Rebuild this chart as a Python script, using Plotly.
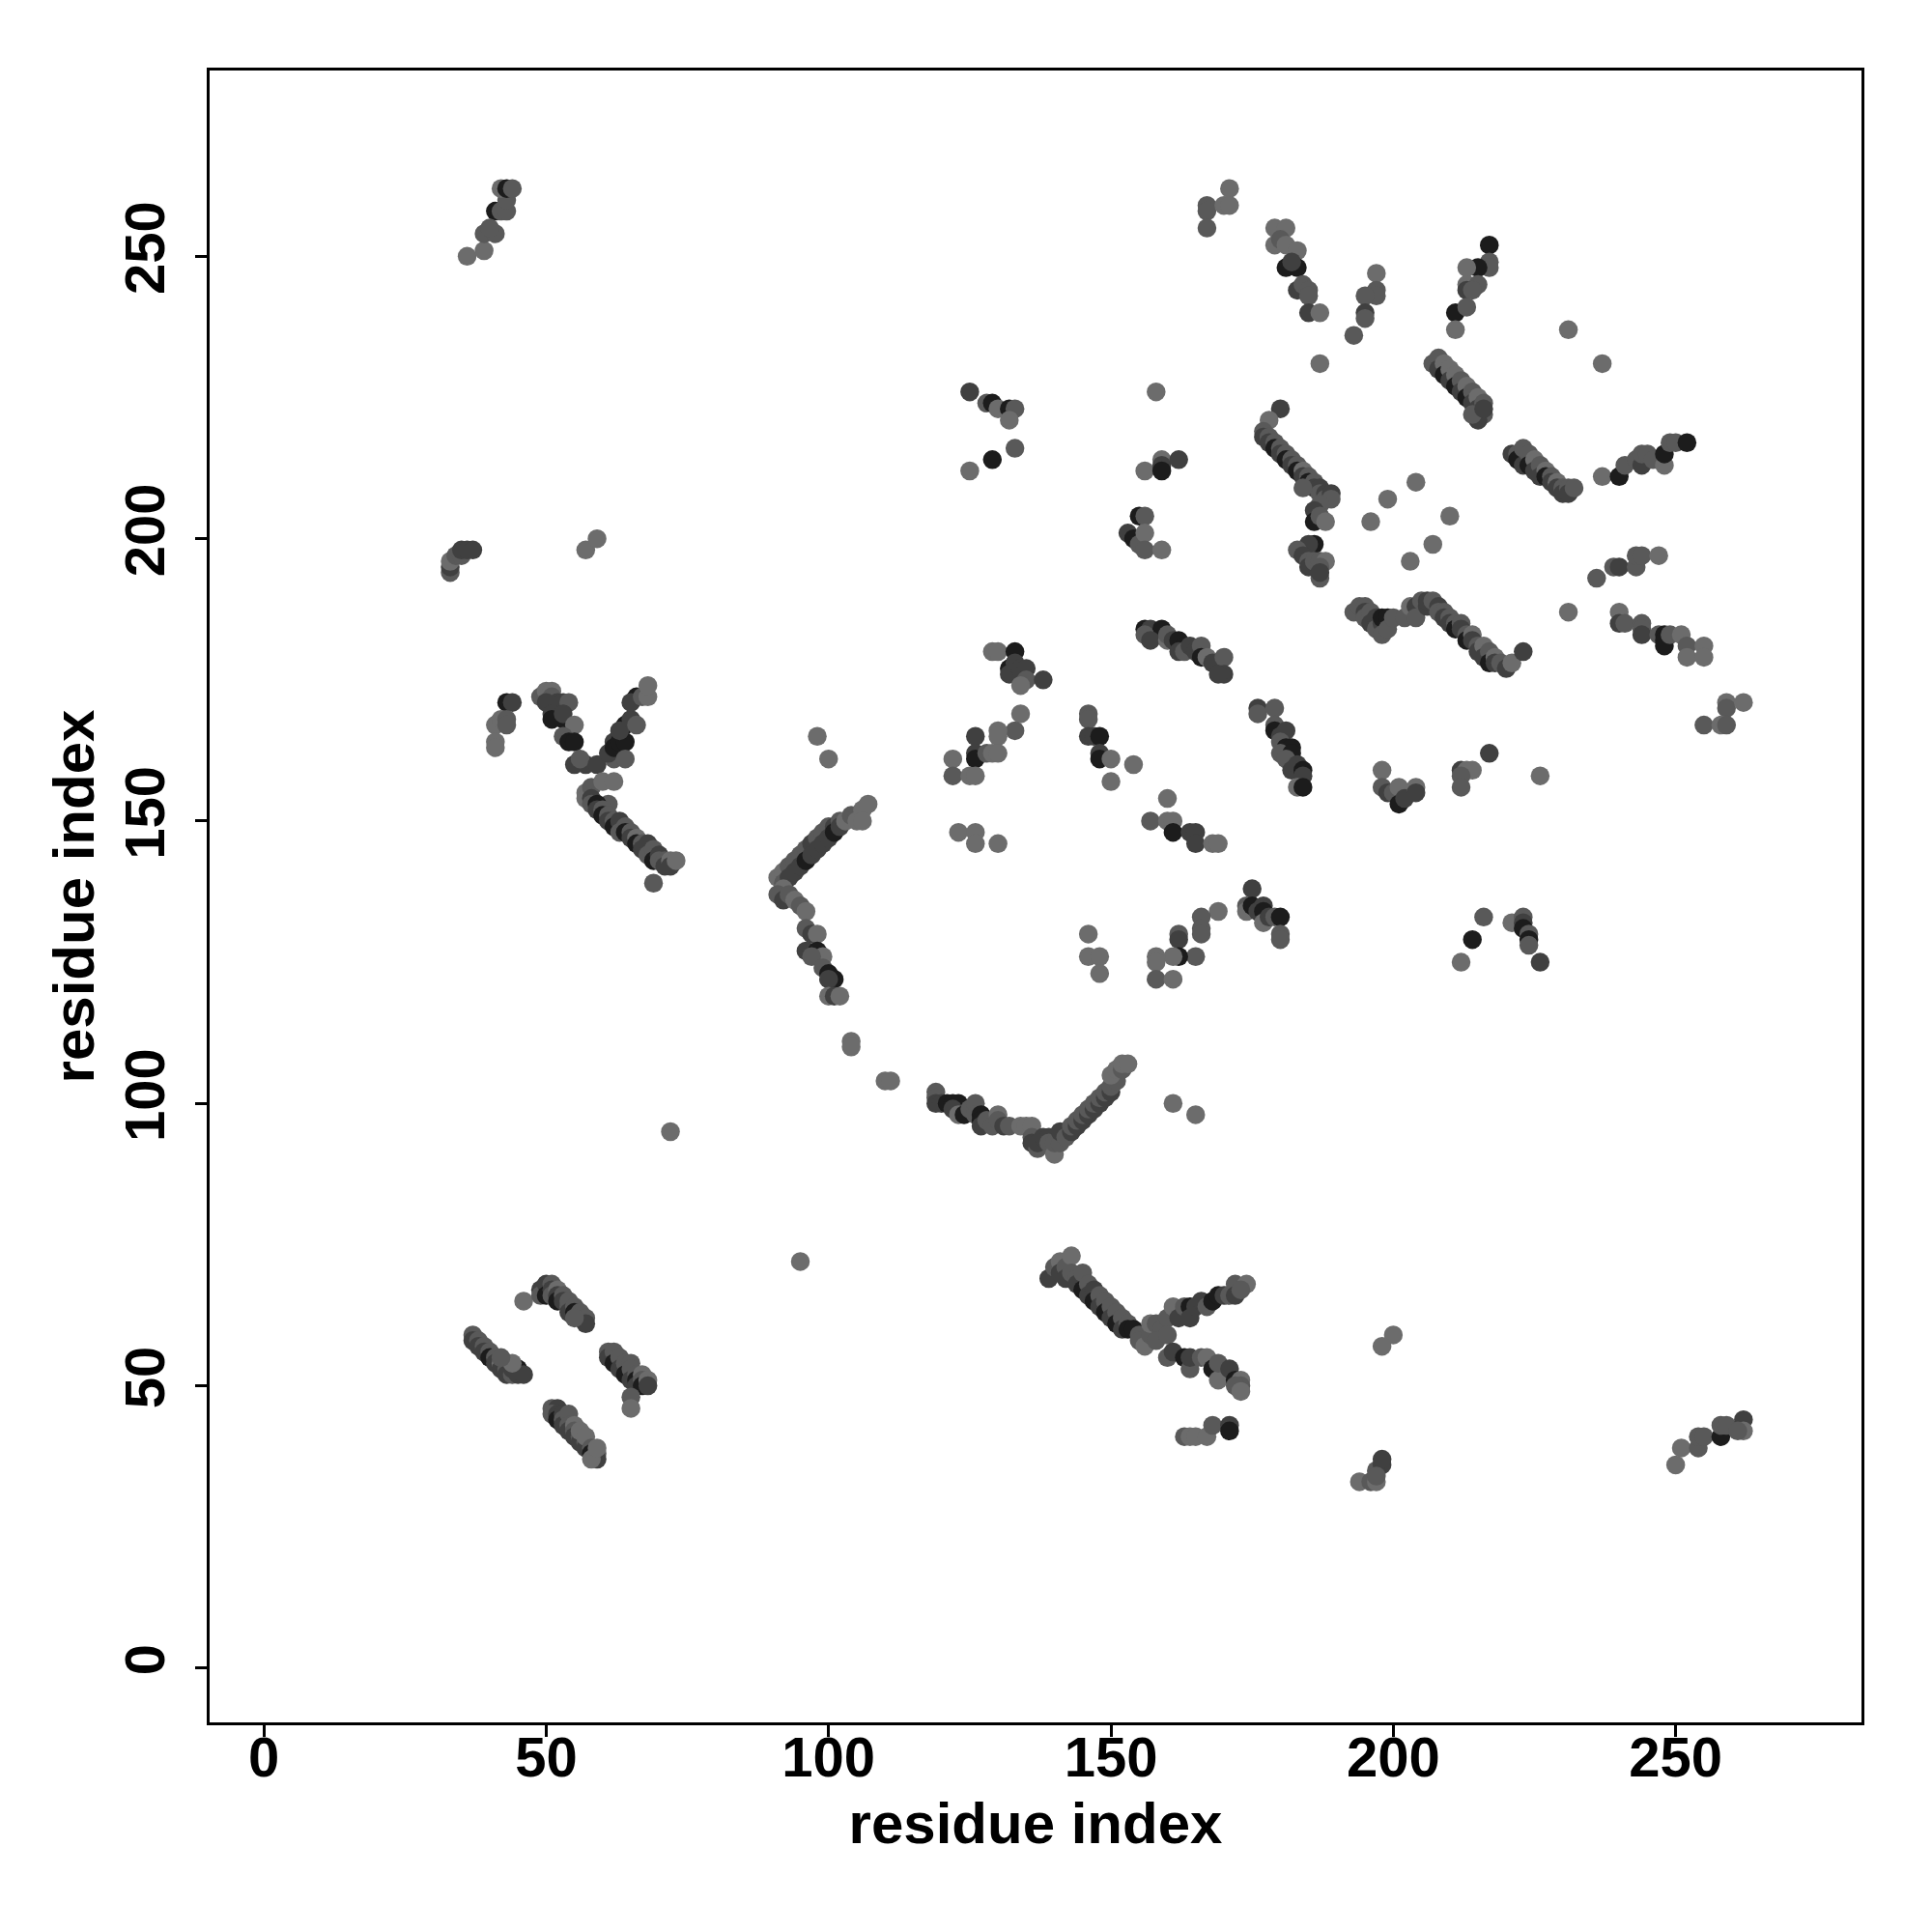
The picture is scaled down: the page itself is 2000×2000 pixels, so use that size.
import plotly.graph_objects as go

# contacts as (residue_i, residue_j, score_level) ; level 1 = weakest (light grey) .. 4 = strongest (near black)
contacts_top_left = [
    (36,250,1),(39,251,1),(39,254,2),(41,254,2),(41,258,4),(42,258,2),(43,258,2),(43,260,2),(42,262,1),(43,262,4),(44,262,2),(40,255,2),
    (33,194,2),(33,195,3),(33,196,1),(34,197,2),(35,197,2),(35,198,3),(36,198,3),(37,198,3),
    (57,198,1),(59,200,1),
]
contacts_y_shape = [
    (43,171,4),(44,171,3),(41,167,1),(42,168,1),(43,168,2),(43,167,2),(41,164,1),(41,163,1),
    (49,172,2),(50,173,1),(51,173,1),(51,172,2),(50,171,3),(52,171,3),(53,171,3),(54,171,2),(51,169,3),(51,168,4),(53,168,4),(53,169,3),
    (55,167,1),(53,165,2),(54,164,4),(55,164,4),(55,160,3),(57,160,3),(56,161,2),
    (57,155,1),(57,154,1),(58,156,2),(59,160,3),(60,157,1),(62,161,2),(61,162,3),(62,164,3),(62,163,4),(63,164,4),(64,164,4),(64,167,4),
    (63,166,3),(65,168,3),(66,167,2),(66,172,4),(65,171,3),(67,172,2),(68,172,1),(68,174,1),(62,157,1),(64,161,2),(61,153,2),
    (58,154,3),(58,153,2),(59,153,4),(59,152,3),(60,152,2),(60,151,4),(61,151,2),(61,150,3),(62,150,2),(62,149,4),(63,150,3),(63,148,2),
    (64,149,2),(64,148,4),(65,148,2),(65,147,3),(66,147,1),(66,146,4),(67,146,2),(67,145,3),(68,146,3),(68,144,2),(69,145,2),(69,143,4),
    (70,144,3),(70,143,2),(71,143,2),(71,142,3),(72,143,1),(72,142,3),(73,143,1),(69,139,2),
]
contacts_arc = [
    (91,140,1),(92,141,1),(92,139,2),(93,142,2),(93,140,3),(94,143,2),(94,141,3),(95,144,2),(95,142,3),(96,145,2),(96,143,4),(97,146,3),
    (97,144,3),(98,147,2),(98,145,3),(99,148,2),(99,146,3),(100,149,2),(100,147,3),(101,149,3),(101,148,4),(102,150,2),(102,149,3),
    (103,150,1),(104,151,2),(105,151,2),(105,150,1),(106,152,1),(107,153,1),(106,150,1),
    (92,138,1),(91,137,2),(92,136,3),(93,137,2),(94,136,1),(95,135,2),(96,134,1),(96,131,2),(97,130,3),(98,130,1),(96,127,3),(98,127,4),
    (99,126,1),(97,126,2),(99,124,2),(100,123,4),(101,122,4),(100,122,3),(100,119,1),(101,119,3),(102,119,1),
    (104,111,1),(104,110,1),(110,104,1),(111,104,1),(98,165,1),(100,161,1),(72,95,1),(95,72,1),
]
contacts_mid_upper = [
    (125,226,3),(128,224,2),(129,224,4),(130,223,1),(132,223,4),(133,223,2),(132,221,1),(133,216,2),(129,214,4),(125,212,1),
    (129,180,1),(130,180,1),(133,180,4),(132,177,4),(132,176,3),(133,178,3),(134,177,3),(135,177,3),(135,175,2),(134,174,1),(138,175,3),
    (134,169,1),(133,166,2),(130,166,1),(130,165,1),(126,165,3),(126,162,3),(126,161,4),(128,162,2),(129,162,1),(130,162,1),
    (122,161,1),(122,158,2),(125,158,1),(126,158,1),(123,148,1),(126,148,1),(126,146,1),(130,146,1),
    (146,169,2),(146,168,2),(146,165,3),(147,165,3),(148,165,4),(148,162,3),(148,161,4),(150,161,1),(150,157,1),(154,160,1),
    (146,130,1),(146,126,1),(148,126,1),(148,123,1),
]
contacts_v_shape = [
    (119,102,2),(119,101,2),(119,100,3),(120,100,3),(121,100,4),(122,100,4),(123,100,4),(122,99,3),(123,98,1),(124,98,4),(125,99,2),
    (126,100,2),(126,98,2),(127,98,4),(127,97,4),(127,96,3),(128,97,2),(129,96,2),(130,98,1),(130,97,2),(131,96,3),(132,96,2),
    (134,96,1),(135,96,1),(136,96,1),(136,94,2),(136,93,3),(137,92,2),(137,93,3),(138,94,3),(139,94,3),(139,93,2),(140,91,1),(140,93,2),
    (141,93,2),(141,95,3),(142,94,2),(143,95,3),(143,96,2),(144,96,3),(144,97,2),(145,97,3),(145,98,2),(146,98,3),(146,99,2),(147,99,3),
    (147,100,2),(148,100,3),(148,101,2),(149,101,3),(149,102,2),(150,102,3),(150,103,2),(151,104,2),(150,105,1),(151,106,1),(152,106,2),
    (152,107,1),(153,107,1),(161,100,1),(165,98,1),
]
contacts_low_left = [
    (37,59,2),(37,58,3),(38,58,2),(38,57,3),(39,57,2),(39,56,3),(40,56,2),(40,55,4),(41,55,2),(41,54,3),(42,54,1),(42,53,3),(43,53,2),
    (43,52,3),(44,52,2),(44,53,3),(45,53,4),(45,52,3),(46,52,3),(44,54,1),(42,55,2),
    (46,65,1),(49,67,3),(49,66,2),(50,68,3),(50,66,4),(51,68,2),(51,67,3),(51,66,2),(52,67,1),(52,66,3),(52,65,4),(53,66,2),(53,65,3),
    (54,64,2),(54,65,2),(54,63,3),(55,64,2),(55,63,4),(56,62,3),(56,63,2),(57,62,2),(57,61,3),(55,62,2),
    (61,56,2),(61,55,3),(62,56,2),(62,54,4),(63,55,2),(63,53,3),(64,54,2),(64,52,4),(65,54,2),(65,53,2),(65,51,3),(66,52,2),(66,51,4),
    (66,50,3),(67,52,1),(67,51,2),(67,50,4),(68,51,1),(68,50,3),(65,48,2),(65,46,1),
    (51,46,2),(52,46,3),(51,45,2),(52,45,3),(52,44,4),(53,45,3),(53,44,2),(53,43,3),(54,45,2),(54,43,2),(54,42,3),(55,43,1),(55,42,2),
    (55,41,3),(56,41,2),(56,40,3),(56,42,1),(57,40,2),(57,39,3),(57,41,1),(58,39,2),(58,38,4),(59,38,2),(59,37,3),(58,37,1),(59,39,1),
]
contacts_low_mid = [
    (139,69,3),(140,71,2),(141,72,1),(141,70,3),(142,71,2),(142,69,3),(143,73,1),(143,70,2),(144,69,2),(144,68,3),(145,70,2),(145,67,4),
    (146,68,2),(146,66,3),(147,67,3),(147,65,4),(148,66,2),(148,64,3),(149,65,2),(149,63,4),(150,64,2),(150,62,3),(151,63,2),(151,61,4),
    (152,62,2),(152,60,3),(153,61,2),(153,60,4),(154,60,4),(155,59,2),(155,58,2),(156,57,1),(157,59,2),(157,61,1),(158,61,2),(159,60,2),(158,58,2),
    (160,62,2),(161,64,1),(160,59,2),(160,55,2),(162,62,3),(163,64,2),(164,64,4),(164,62,3),(165,64,3),(166,65,3),(167,64,2),(168,65,4),
    (169,66,4),(170,66,3),(171,66,2),(172,68,2),(172,66,3),(174,68,1),(173,67,2),
    (161,56,3),(163,55,4),(164,53,2),(164,55,3),(166,55,2),(167,55,1),(168,53,4),(169,51,1),(169,54,2),(171,53,3),(172,51,4),(173,51,1),
    (173,50,2),(172,50,2),(173,49,1),
    (163,41,2),(164,41,1),(165,41,1),(167,41,1),(168,43,2),(171,43,3),(171,42,4),
]
contacts_low_right = [
    (200,59,1),(198,57,1),
    (194,33,1),(196,33,2),(197,33,1),(197,35,2),(198,36,3),(198,37,3),(197,34,2),
    (250,36,1),(251,39,1),(254,39,2),(254,41,2),(255,41,2),(258,41,4),(258,43,2),(259,43,2),(262,44,3),(262,42,1),(261,42,2),
]
contacts_center = [
    (156,184,4),(157,184,3),(159,184,4),(156,183,2),(157,182,3),(160,182,1),(160,183,2),(161,182,3),(162,182,4),(163,181,4),(162,180,3),
    (163,180,2),(164,181,3),(165,180,3),(166,181,2),(166,179,4),(167,179,1),(168,178,3),(170,179,2),(170,176,3),(169,176,3),
    (176,170,3),(176,169,2),(179,170,2),(179,167,2),(179,166,4),(180,165,3),(181,166,3),(180,164,2),(181,163,4),(182,163,4),(180,162,2),
    (182,162,4),(181,161,2),(182,159,3),(183,160,3),(184,159,4),(184,158,3),(183,156,1),(184,156,4),
    (160,154,1),(157,150,2),(160,150,1),(161,150,1),(161,148,4),(164,148,3),(165,148,3),(165,146,3),(168,146,1),(169,146,1),
    (198,159,1),(198,156,2),(199,155,3),(200,155,2),(201,156,1),(201,153,4),(202,154,3),(204,156,1),(204,155,3),
    (175,138,3),(174,135,2),(174,134,1),(175,135,4),(176,134,3),(177,135,3),(177,134,4),(177,132,1),(178,133,3),(179,133,2),(180,133,4),
    (180,130,2),(180,129,2),
    (169,134,1),(166,133,2),(166,131,2),(166,130,2),(162,130,2),(162,129,3),(165,126,2),(162,126,4),(161,126,1),(158,126,1),(158,125,1),
    (158,122,2),(161,122,1),
]
contacts_upper_right = [
    (171,262,1),(167,259,2),(167,258,2),(170,259,1),(171,259,1),(167,255,2),
    (179,255,1),(181,255,1),(179,252,1),(180,253,2),(181,252,1),(183,251,1),(181,248,4),(183,248,4),(182,249,3),(183,244,3),(184,245,2),
    (185,244,2),(185,243,2),(185,240,3),(187,240,1),
    (197,247,1),(197,244,2),(197,243,2),(195,243,2),(195,240,3),(195,239,2),(193,236,2),(187,231,1),(158,226,1),
    (180,223,3),(178,221,1),(177,219,2),(177,218,3),(178,218,2),(178,217,3),(179,217,2),(179,216,4),(180,216,2),(180,215,3),(181,215,2),
    (181,214,4),(182,214,2),(182,213,3),(183,213,2),(183,212,4),(184,212,1),(184,211,3),(185,211,2),(185,210,4),(186,210,2),(186,209,3),
    (187,209,3),(187,208,2),(188,208,3),(188,207,2),(189,208,3),(189,207,2),(187,206,2),(186,205,3),(186,203,4),(187,204,2),(188,203,1),(184,209,2),
    (156,212,1),(159,214,1),(159,213,3),(162,214,3),(159,212,4),(155,204,4),(156,204,2),(153,201,3),(154,200,4),(155,199,2),(156,201,1),
    (156,198,2),(159,198,1),
    (186,199,4),(185,199,3),(183,198,2),(184,197,3),(185,196,2),(185,195,3),(186,196,2),(187,196,2),(188,196,1),(187,195,2),(187,193,2),(187,194,3),
    (204,210,1),(199,207,1),(196,203,1),(207,199,1),(203,196,1),(210,204,1),
]
contacts_right = [
    (193,187,2),(194,188,2),(195,188,2),(195,187,3),(195,186,2),(196,187,2),(196,185,3),(197,186,3),(197,184,2),(198,185,3),(198,186,4),
    (198,183,2),(199,186,4),(199,184,2),(200,186,2),(202,186,2),(203,188,1),(204,188,3),(204,186,2),(205,189,2),(206,188,3),(206,189,3),
    (207,189,2),(208,188,3),(208,187,2),
    (209,187,2),(209,186,3),(210,186,2),(210,185,3),(211,185,2),(211,184,4),(212,185,2),(212,184,3),(213,183,2),(213,182,4),(214,183,1),
    (214,182,3),(215,181,2),(215,180,3),(216,181,1),(216,179,3),(217,180,2),(217,178,4),(218,179,1),(218,178,3),(219,178,2),(220,177,3),
    (221,178,1),(223,180,3),
    (217,252,4),(217,249,2),(217,248,2),(215,248,4),(213,248,1),(213,245,1),(215,245,2),(213,244,3),(214,244,2),(211,240,4),(213,241,2),(211,237,1),
    (231,237,1),(237,231,1),
    (207,231,2),(208,232,2),(208,230,3),(209,231,1),(209,229,4),(210,230,1),(210,228,3),(211,229,1),(211,227,4),(212,228,2),(212,226,3),
    (213,227,1),(213,225,4),(214,226,2),(214,224,3),(215,225,1),(215,223,3),(216,224,2),(216,222,2),(215,221,3),(214,222,2),(216,223,3),
    (221,215,3),(222,215,2),(222,214,4),(223,216,2),(223,213,3),(224,215,2),(224,213,4),(225,214,1),(225,212,3),(226,213,2),(226,211,3),
    (227,212,1),(227,211,4),(228,211,2),(228,210,3),(229,210,1),(229,209,3),(230,209,2),(230,208,3),(231,209,2),(231,208,3),(232,209,2),
    (237,211,1),(240,211,4),(241,213,2),(243,214,2),(244,213,3),(244,215,2),(245,215,2),(246,214,2),(248,213,1),(248,215,4),(249,217,2),
    (250,217,2),(252,217,4),
    (236,193,2),(239,195,2),(240,195,3),(243,195,2),(243,197,2),(244,197,2),(247,197,1),
    (231,187,1),(240,187,1),
    (240,185,3),(241,185,2),(244,185,2),(244,184,2),(244,183,3),(247,183,2),(248,183,4),(248,182,4),(248,181,4),(249,183,2),(251,183,1),
    (252,181,2),(252,179,1),(255,181,1),(255,179,1),
    (259,171,1),(259,170,2),(262,171,1),(255,167,2),(258,167,1),(259,167,2),
    (217,162,3),(212,159,3),(213,159,1),(214,159,1),(212,158,2),(212,156,2),(226,158,1),
    (216,133,2),(214,129,4),(212,125,1),(221,132,1),(223,133,2),(223,132,3),(223,131,4),(224,130,2),(224,129,4),(224,128,2),(226,125,3),
]

x_ticks = [0, 50, 100, 150, 200, 250]
y_ticks = [0, 50, 100, 150, 200, 250]
axis_label = "residue index"

all_contacts = (contacts_top_left + contacts_y_shape + contacts_arc + contacts_mid_upper + contacts_v_shape
                + contacts_low_left + contacts_low_mid + contacts_low_right + contacts_center
                + contacts_upper_right + contacts_right)

level_colors = {1: "#6c6c6c", 2: "#595959", 3: "#404040", 4: "#1c1c1c"}

fig = go.Figure()
fig.add_trace(go.Scatter(
    x=[c[0] for c in all_contacts], y=[c[1] for c in all_contacts], mode="markers",
    marker=dict(size=19.5, color=[level_colors[c[2]] for c in all_contacts], line=dict(width=0)),
    showlegend=False, hoverinfo="x+y"))

font_family = "Liberation Sans, Arial, Helvetica, sans-serif"
axis_common = dict(
    showgrid=False, zeroline=False, showline=True, linecolor="black", linewidth=2.5, mirror=True,
    ticks="outside", ticklen=12, tickwidth=2.5, tickcolor="black",
    tickfont=dict(family=font_family, size=58, color="black", weight="bold"),
)
fig.update_layout(
    width=2000, height=2000,
    paper_bgcolor="white", plot_bgcolor="white",
    margin=dict(l=209, r=81, t=65, b=225),
    xaxis=dict(range=[-9.6, 282.9], tickvals=x_ticks, ticktext=[str(v) for v in x_ticks],
               ticklabelstandoff=-28,
               title=dict(text=axis_label, font=dict(family=font_family, size=60, color="black", weight="bold"), standoff=16),
               **axis_common),
    yaxis=dict(range=[-9.6, 282.9], tickvals=y_ticks, ticktext=[str(v) for v in y_ticks], tickangle=-90,
               ticklabelstandoff=9,
               title=dict(text=axis_label, font=dict(family=font_family, size=60, color="black", weight="bold"), standoff=1),
               **axis_common),
)
fig.write_html("out.html")
